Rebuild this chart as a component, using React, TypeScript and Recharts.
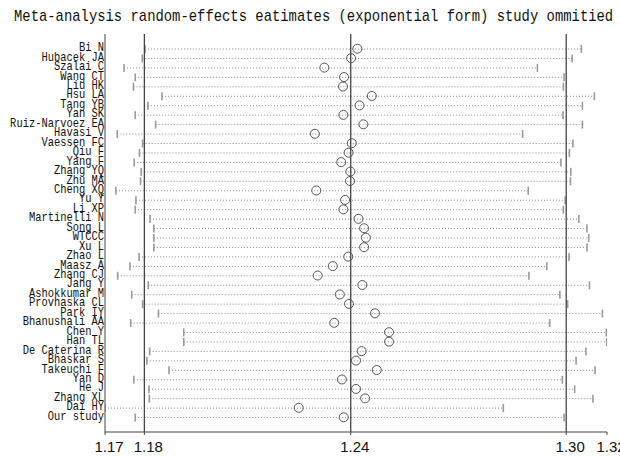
import React from 'react';
import { ComposedChart, Bar, Line, XAxis, YAxis, ReferenceLine } from 'recharts';

const TITLE = 'Meta-analysis random-effects eatimates (exponential form) study ommitied';

const STUDIES = [
  'Bi N', 'Hubacek JA', 'Szalai C', 'Wang CT', 'Liu HK', 'Hsu LA', 'Tang YB', 'Yan SK',
  'Ruiz-Narvoez EA', 'Havasi V', 'Vaessen FC', 'Qiu F', 'Yang F', 'Zhang YQ', 'Zhu MA',
  'Cheng XQ', 'Yu Y', 'Li XP', 'Martinelli N', 'Song L', 'WTCCC', 'Xu L', 'Zhao L',
  'Maasz A', 'Zhang CJ', 'Jang Y', 'Ashokkumar M', 'Provhaska CL', 'Park IY',
  'Bhanushali AA', 'Chen Y', 'Han TL', 'De Caterina R', 'Bhaskar S', 'Takeuchi F',
  'Yan D', 'He J', 'Zhang XL', 'Dai HY', 'Our study',
];

// lower CI bound, estimate, upper CI bound with the study left out
const LOWER = [
  1.1802, 1.1794, 1.1742, 1.1774, 1.1769, 1.1850, 1.1810, 1.1774, 1.1832, 1.1723,
  1.1795, 1.1786, 1.1771, 1.1791, 1.1789, 1.1719, 1.1776, 1.1774, 1.1816, 1.1827,
  1.1827, 1.1827, 1.1785, 1.1759, 1.1724, 1.1811, 1.1764, 1.1795, 1.1840, 1.1761,
  1.1912, 1.1912, 1.1815, 1.1807, 1.1870, 1.1770, 1.1813, 1.1814, 1.1688, 1.1774,
];
const ESTIMATE = [
  1.2406, 1.2388, 1.2312, 1.2368, 1.2365, 1.2447, 1.2412, 1.2366, 1.2423, 1.2285,
  1.2390, 1.2381, 1.2360, 1.2386, 1.2385, 1.2289, 1.2371, 1.2366, 1.2409, 1.2425,
  1.2430, 1.2425, 1.2380, 1.2336, 1.2293, 1.2420, 1.2356, 1.2382, 1.2456, 1.2340,
  1.2496, 1.2496, 1.2418, 1.2402, 1.2461, 1.2362, 1.2402, 1.2428, 1.2239, 1.2367,
];
const UPPER = [
  1.3043, 1.3017, 1.2918, 1.2994, 1.2992, 1.3080, 1.3046, 1.2991, 1.3046, 1.2876,
  1.3019, 1.3009, 1.2985, 1.3013, 1.3012, 1.2892, 1.2997, 1.2992, 1.3036, 1.3059,
  1.3064, 1.3059, 1.3008, 1.2945, 1.2894, 1.3066, 1.2982, 1.3004, 1.3103, 1.2953,
  1.3114, 1.3115, 1.3056, 1.3028, 1.3082, 1.2989, 1.3024, 1.3076, 1.2821, 1.2994,
];

const AXIS_MIN = 1.1688;
const AXIS_MAX = 1.3116;
const TICK_VALUES = [1.1688, 1.18, 1.2387, 1.3, 1.3116];
const TICK_LABELS = ['1.17', '1.18', '1.24', '1.30', '1.32'];
// overall lower CI, pooled estimate, overall upper CI
const REF_LINES = [1.18, 1.2387, 1.3];

const rows = STUDIES.map((name, i) => ({
  name,
  ci: [LOWER[i], UPPER[i]],
  est: ESTIMATE[i],
}));

const CiShape = (props: any) => {
  const { x, y, width, height } = props;
  if (x == null || width == null) return null;
  const cy = y + height / 2;
  return (
    <g>
      <line x1={x} x2={x + width} y1={cy} y2={cy} stroke="#8a8a8a" strokeDasharray="1 2" strokeWidth={1} />
      <line x1={x} x2={x} y1={y} y2={y + height} stroke="#9a9a9a" strokeWidth={1.6} />
      <line x1={x + width} x2={x + width} y1={y} y2={y + height} stroke="#9a9a9a" strokeWidth={1.6} />
    </g>
  );
};

const NameTick = (props: any) => {
  const { x, y, payload } = props;
  return (
    <text
      transform={`translate(${x},${y + 2.5}) scale(0.87,1)`}
      textAnchor="end"
      fontFamily="'Liberation Mono', monospace"
      fontSize={12}
      fill="#111"
    >
      {payload.value}
    </text>
  );
};

export default function App() {
  return (
    <div style={{ position: 'relative', width: 620, height: 456, background: '#fff' }}>
      <style>{'body{margin:0}'}</style>
      <svg width={620} height={30} style={{ position: 'absolute', left: 0, top: 0 }}>
        <text
          transform="translate(14,20.5) scale(0.867,1)"
          fontFamily="'Liberation Mono', monospace"
          fontSize={16}
          fill="#111"
        >
          {TITLE}
        </text>
      </svg>
      <ComposedChart
        width={620}
        height={456}
        data={rows}
        layout="vertical"
        margin={{ top: 34, right: 13, bottom: 2, left: 0 }}
      >
        <XAxis
          type="number"
          domain={[AXIS_MIN, AXIS_MAX]}
          ticks={TICK_VALUES}
          interval={0}
          allowDataOverflow
          tickFormatter={(v: number, i: number) => TICK_LABELS[i]}
          height={22}
          tickSize={3}
          tickMargin={6}
          stroke="#444"
          tick={{ fill: '#111', fontSize: 15, fontFamily: "'Liberation Sans', Arial, sans-serif", dx: 4 }}
        />
        <YAxis
          type="category"
          dataKey="name"
          width={105}
          interval={0}
          padding={{ top: 10, bottom: 10 }}
          tickLine={false}
          tickSize={0}
          tickMargin={1}
          stroke="#444"
          tick={<NameTick />}
        />
        {REF_LINES.map((v) => (
          <ReferenceLine key={v} x={v} stroke="#444" strokeWidth={1.3} ifOverflow="extendDomain" />
        ))}
        <Bar dataKey="ci" barSize={8} shape={<CiShape />} isAnimationActive={false} />
        <Line
          dataKey="est"
          stroke="none"
          dot={{ r: 4.5, stroke: '#555', strokeWidth: 1, fill: 'none' }}
          activeDot={false}
          isAnimationActive={false}
        />
      </ComposedChart>
    </div>
  );
}
